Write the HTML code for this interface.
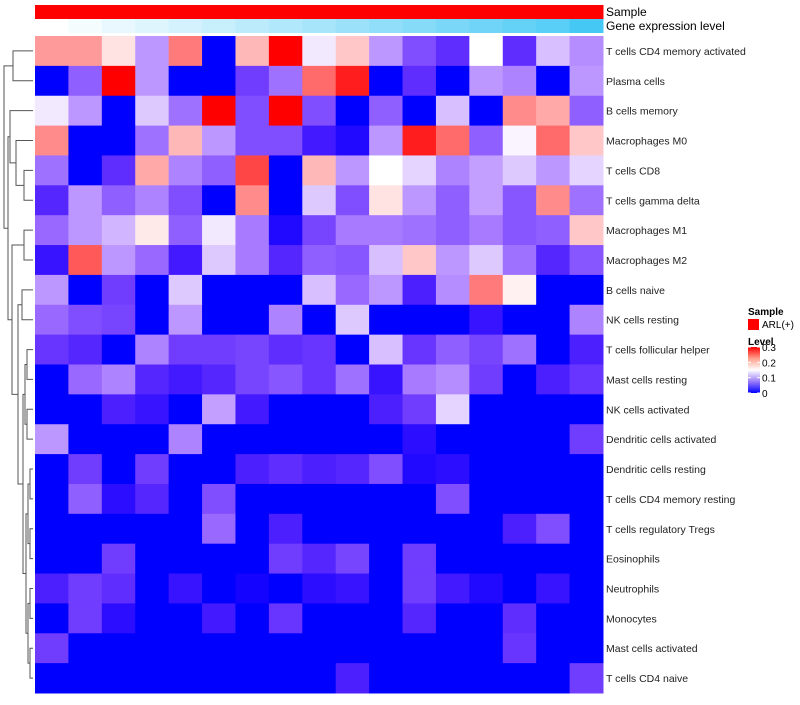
<!DOCTYPE html>
<html><head><meta charset="utf-8"><style>
body{margin:0;background:#fff;}
svg text{font-family:"Liberation Sans",sans-serif;}
</style></head><body>
<svg id="chart" width="800" height="700" xmlns="http://www.w3.org/2000/svg">
<g id="dendro" stroke="#555" fill="none" stroke-width="1"></g>
<g id="annot"></g>
<g id="cells"></g>
<g id="labels"></g>
<text x="606" y="16" font-size="12" fill="#000">Sample</text>
<text x="606" y="30" font-size="12" fill="#000">Gene expression level</text>
<g>
<text x="748" y="315" font-size="10" font-weight="bold">Sample</text>
<rect x="748" y="319" width="11" height="11" fill="#ff0000"/>
<text x="762" y="328" font-size="10">ARL(+)</text>
<text x="748" y="345" font-size="10" font-weight="bold">Level</text>
<defs><linearGradient id="lg" x1="0" y1="1" x2="0" y2="0"><stop offset="0" stop-color="#0000ff"/><stop offset="0.25" stop-color="#9a7cf8"/><stop offset="0.5" stop-color="#ffffff"/><stop offset="0.75" stop-color="#ff9f8c"/><stop offset="1" stop-color="#ff0000"/></linearGradient></defs>
<rect x="748" y="347" width="12" height="46" fill="url(#lg)"/>
<g id="legticks"></g>
</g>
</svg>
<script>
const rowNames=["T cells CD4 memory activated","Plasma cells","B cells memory","Macrophages M0","T cells CD8","T cells gamma delta","Macrophages M1","Macrophages M2","B cells naive","NK cells resting","T cells follicular helper","Mast cells resting","NK cells activated","Dendritic cells activated","Dendritic cells resting","T cells CD4 memory resting","T cells regulatory  Tregs","Eosinophils","Neutrophils","Monocytes","Mast cells activated","T cells CD4 naive"];
const r01=[0.22,0.22,0.17,0.10,0.24,0,0.2,0.3,0.14,0.19,0.10,0.06,0.04,0.15,0.04,0.12,0.095];
const r02=[0,0.07,0.3,0.10,0,0,0.05,0.08,0.25,0.29,0,0.04,0,0.10,0.09,0,0.10];
const r03=[0.14,0.10,0,0.125,0.08,0.3,0.06,0.3,0.06,0,0.07,0,0.12,0,0.23,0.21,0.07];
const r04=[0.23,0,0,0.08,0.2,0.10,0.06,0.06,0.025,0.01,0.10,0.29,0.25,0.07,0.145,0.25,0.19];
const r05=[0.08,0,0.04,0.21,0.09,0.07,0.27,0,0.2,0.10,0.15,0.13,0.09,0.105,0.125,0.10,0.13];
const r06=[0.035,0.10,0.07,0.09,0.06,0,0.23,0,0.125,0.06,0.17,0.10,0.07,0.105,0.065,0.23,0.08];
const r07=[0.075,0.10,0.115,0.165,0.07,0.14,0.085,0.01,0.055,0.085,0.085,0.08,0.07,0.085,0.065,0.07,0.19];
const r08=[0.02,0.26,0.10,0.075,0.025,0.125,0.085,0.035,0.07,0.065,0.12,0.19,0.10,0.125,0.08,0.035,0.065];
const r09=[0.10,0,0.05,0,0.125,0,0,0,0.12,0.075,0.10,0.03,0.095,0.24,0.16,0,0];
const r10=[0.075,0.06,0.055,0,0.10,0,0,0.09,0,0.125,0,0,0,0.02,0,0,0.09];
const r11=[0.045,0.035,0,0.09,0.05,0.05,0.055,0.04,0.045,0,0.12,0.045,0.07,0.055,0.08,0,0.03];
const r12=[0,0.075,0.09,0.035,0.025,0.035,0.055,0.065,0.045,0.08,0.02,0.085,0.095,0.05,0,0.03,0.045];
const r13=[0,0,0.03,0.02,0,0.105,0.025,0,0,0,0.03,0.05,0.13,0,0,0,0];
const r14=[0.10,0,0,0,0.09,0,0,0,0,0,0,0.015,0,0,0,0,0.05];
const r15=[0,0.05,0,0.05,0,0,0.03,0.04,0.03,0.035,0.06,0.01,0.015,0,0,0,0];
const r16=[0,0.07,0.015,0.035,0,0.06,0,0,0,0,0,0,0.06,0,0,0,0];
const r17=[0,0,0,0,0,0.075,0,0.03,0,0,0,0,0,0,0.03,0.06,0];
const r18=[0,0,0.05,0,0,0,0,0.05,0.035,0.055,0,0.05,0,0,0,0,0];
const r19=[0.03,0.05,0.04,0,0.02,0,0.005,0,0.015,0.02,0,0.05,0.025,0.01,0,0.02,0];
const r20=[0,0.05,0.015,0,0,0.025,0,0.045,0,0,0,0.035,0,0,0.04,0,0];
const r21=[0.05,0,0,0,0,0,0,0,0,0,0,0,0,0,0.045,0,0];
const r22=[0,0,0,0,0,0,0,0,0,0.03,0,0,0,0,0,0,0.05];
const values=[r01,r02,r03,r04,r05,r06,r07,r08,r09,r10,r11,r12,r13,r14,r15,r16,r17,r18,r19,r20,r21,r22];
const geneLevel=[0,0.06,0.12,0.18,0.24,0.3,0.36,0.42,0.48,0.54,0.6,0.66,0.72,0.78,0.84,0.9,1];
const legendTicks=[0,0.1,0.2,0.3];

const X0=35,X1=603,Y0=36,Y1=693,VMAX=0.3;
const nC=17,nR=rowNames.length,cw=(X1-X0)/nC,rh=(Y1-Y0)/nR;
const xs=i=>X0+i*cw, ys=j=>Y0+j*rh;
function col(v){
  const m=VMAX/2;
  if(v<=m){const t=Math.max(0,v/m);return `rgb(${Math.round(255*Math.pow(t,0.75))},${Math.round(255*Math.pow(t,1.3))},255)`;}
  const t=Math.min(1,(v-m)/m);const g=Math.round(255*Math.pow(1-t,0.8));return `rgb(255,${g},${g})`;
}
const NS="http://www.w3.org/2000/svg";
function mk(tag,attrs,parent){const e=document.createElementNS(NS,tag);for(const k in attrs)e.setAttribute(k,attrs[k]);parent.appendChild(e);return e;}
const cells=document.getElementById('cells');
values.forEach((row,j)=>row.forEach((v,i)=>{
  const r=mk('rect',{x:xs(i),y:ys(j),width:cw+0.5,height:rh+0.5,fill:col(v)},cells);
  
  
}));
const labels=document.getElementById('labels');
rowNames.forEach((n,j)=>{
  const t=mk('text',{x:606,y:ys(j)+rh/2+4,'font-size':10.5,fill:'#222'},labels);
  t.textContent=n;
  
  
});
const annot=document.getElementById('annot');
for(let i=0;i<nC;i++){
  const s=mk('rect',{x:xs(i),y:5,width:cw+0.5,height:14,fill:'#ff0000'},annot);
  
  
  const t=geneLevel[i];
  const g=mk('rect',{x:xs(i),y:19,width:cw+0.5,height:14,fill:`rgb(${Math.round(255-185*t)},${Math.round(255-55*t)},${Math.round(255-10*t)})`},annot);
  
  
}
const lt=document.getElementById('legticks');
legendTicks.forEach(v=>{
  const y=393-v/VMAX*46;
  mk('line',{x1:748,x2:751,y1:y,y2:y,stroke:'#fff'},lt);
  mk('line',{x1:757,x2:760,y1:y,y2:y,stroke:'#fff'},lt);
  const t=mk('text',{x:762,y:y+4,'font-size':10},lt);
  t.textContent=String(v);
  
  
});
// dendrogram (approximate)
const d=document.getElementById('dendro');
const cy=j=>ys(j)+rh/2;
function link(a,b,x,xa,xb){mk('path',{d:`M${xa},${a}H${x}V${b}H${xb}`},d);}
link(cy(0),cy(1),13,33,33);
const m1=(cy(0)+cy(1))/2;
link(cy(4),cy(5),24,33,33);
link(cy(6),cy(7),24,33,33);
const m45=(cy(4)+cy(5))/2,m67=(cy(6)+cy(7))/2;
link(cy(3),m45,16,33,24);
link(cy(2),(cy(3)+m45)/2,10,33,16);
link(cy(8),cy(9),22,33,33);
link(cy(10),cy(11),27,33,33);
link(cy(12),cy(13),27,33,33);
link(cy(14),cy(15),30,33,33);
link(cy(16),cy(17),30,33,33);
link(cy(18),cy(19),30,33,33);
link(cy(20),cy(21),30,33,33);
const a=(cy(10)+cy(11))/2,b=(cy(12)+cy(13))/2;
link(a,b,25,27,27);
const c=(cy(14)+cy(15))/2,e=(cy(16)+cy(17))/2,f=(cy(18)+cy(19))/2,g=(cy(20)+cy(21))/2;
link(c,e,28,30,30);link(f,g,28,30,30);
const cf=(c+e)/2,fg=(f+g)/2;
link(cf,fg,26,28,28);
const lo=(cf+fg)/2,ab=(a+b)/2;
link(ab,lo,23,25,26);
const mid89=(cy(8)+cy(9))/2;
link(mid89,(ab+lo)/2,18,22,23);
link(m67,(mid89+(ab+lo)/2)/2,12,24,18);
const upper=(cy(2)+(cy(3)+m45)/2)/2, lower=(m67+(mid89+(ab+lo)/2)/2)/2;
link(upper,lower,8,10,12);
link(m1,(upper+lower)/2,4,13,8);
</script>
</body></html>
